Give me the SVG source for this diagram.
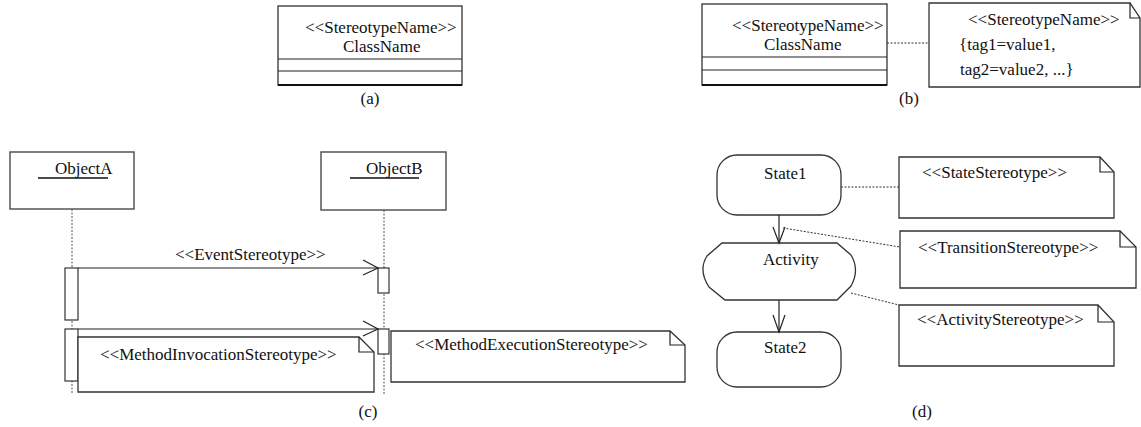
<svg xmlns="http://www.w3.org/2000/svg" width="1141" height="427" viewBox="0 0 1141 427" font-family="'Liberation Serif', 'DejaVu Serif', Tinos, serif">
<style>
text{font-family:'Liberation Serif','DejaVu Serif',Tinos,serif;font-size:17px;fill:#111}
.box{fill:#fff;stroke:#333;stroke-width:1.3}
.obj{fill:#fff;stroke:#555;stroke-width:1.5}
.ln{fill:none;stroke:#222;stroke-width:1.2}
.dot{fill:none;stroke:#333;stroke-width:1;stroke-dasharray:2 1.5}
.life{fill:none;stroke:#555;stroke-width:1;stroke-dasharray:2 1.5}
.act{fill:#fff;stroke:#333;stroke-width:1.2}
</style>
<rect width="1141" height="427" fill="#fff"/>

<!-- (a) -->
<g id="classA">
<rect class="box" x="278" y="6" width="184" height="79"/>
<line class="ln" x1="278" y1="59" x2="462" y2="59"/>
<line class="ln" x1="278" y1="71" x2="462" y2="71"/>
<line x1="278" y1="85" x2="462" y2="85" stroke="#111" stroke-width="2"/>
<text x="305" y="33">&lt;&lt;StereotypeName&gt;&gt;</text>
<text x="343" y="52">ClassName</text>
</g>
<text x="370" y="104" text-anchor="middle">(a)</text>

<!-- (b) -->
<g id="classB">
<rect class="box" x="702" y="4" width="185" height="81"/>
<line class="ln" x1="702" y1="57" x2="887" y2="57"/>
<line class="ln" x1="702" y1="70" x2="887" y2="70"/>
<line x1="702" y1="85" x2="887" y2="85" stroke="#111" stroke-width="2"/>
<text x="732" y="31">&lt;&lt;StereotypeName&gt;&gt;</text>
<text x="764" y="50">ClassName</text>
</g>
<g id="noteB">
<path class="box" d="M929,3 H1130 L1140,18 V87 H929 Z"/>
<path class="ln" d="M1130,3 V18 H1140"/>
<text x="968" y="25">&lt;&lt;StereotypeName&gt;&gt;</text>
<text x="959" y="50">{tag1=value1,</text>
<text x="960" y="75">tag2=value2, ...}</text>
</g>
<text x="909" y="104" text-anchor="middle">(b)</text>

<!-- (c) -->
<g id="objectA">
<rect class="obj" x="10" y="152" width="124" height="57"/>
<text x="55" y="174">ObjectA</text>
<line x1="38" y1="178" x2="108" y2="178" stroke="#111" stroke-width="1.3"/>
</g>
<g id="objectB">
<rect class="obj" x="321" y="152" width="125" height="58"/>
<text x="366" y="174">ObjectB</text>
<line x1="350" y1="178" x2="419" y2="178" stroke="#111" stroke-width="1.3"/>
</g>
<g id="lifelines">
<line class="life" x1="72" y1="209" x2="72" y2="394"/>
<line class="life" x1="384" y1="210" x2="384" y2="394"/>
</g>
<g id="activations">
<rect class="act" x="65" y="268" width="13" height="52"/>
<rect class="act" x="65" y="329" width="13" height="52"/>
<rect class="act" x="378" y="268" width="11" height="25"/>
<rect class="act" x="378" y="329" width="11" height="25"/>
</g>
<g id="messages">
<line class="ln" x1="78" y1="268" x2="378" y2="268"/>
<path class="ln" d="M363,260 L378,268 L363,275"/>
<text x="175" y="260">&lt;&lt;EventStereotype&gt;&gt;</text>
<line class="ln" x1="78" y1="329" x2="378" y2="329"/>
<path class="ln" d="M363,321 L378,329 L363,336"/>
</g>
<g id="noteInvocation">
<path class="box" d="M78,337 H359 L374,352 V392 H78 Z"/>
<path class="ln" d="M359,337 V352 H374"/>
<text x="100" y="360">&lt;&lt;MethodInvocationStereotype&gt;&gt;</text>
</g>
<g id="noteExecution">
<path class="box" d="M391,331 H670 L685,345 V382 H391 Z"/>
<path class="ln" d="M670,331 V345 H685"/>
<text x="415" y="350">&lt;&lt;MethodExecutionStereotype&gt;&gt;</text>
</g>
<text x="368" y="417" text-anchor="middle">(c)</text>

<!-- (d) -->
<g id="state1">
<rect class="box" x="717" y="155" width="124" height="60" rx="20" ry="20"/>
<text x="764" y="179">State1</text>
</g>
<g id="activity">
<path class="box" d="M722,243 H837 L851,255 Q860,270 851,286 L837,300 H725 L709,287 Q698,270 707,256 Z"/>
<text x="763" y="265">Activity</text>
</g>
<g id="state2">
<rect class="box" x="717" y="332" width="124" height="55" rx="20" ry="20"/>
<text x="764" y="353">State2</text>
</g>
<g id="noteState">
<path class="box" d="M899,157 H1100 L1114,172 V218 H899 Z"/>
<path class="ln" d="M1100,157 V172 H1114"/>
<text x="922" y="178">&lt;&lt;StateStereotype&gt;&gt;</text>
</g>
<g id="noteTransition">
<path class="box" d="M900,231 H1120 L1136,247 V288 H900 Z"/>
<path class="ln" d="M1120,231 V247 H1136"/>
<text x="918" y="253">&lt;&lt;TransitionStereotype&gt;&gt;</text>
</g>
<g id="noteActivity">
<path class="box" d="M899,305 H1098 L1114,322 V366 H899 Z"/>
<path class="ln" d="M1098,305 V322 H1114"/>
<text x="917" y="325">&lt;&lt;ActivityStereotype&gt;&gt;</text>
</g>
<g id="connectors">
<line class="dot" x1="887" y1="43" x2="929" y2="43"/>
<line class="ln" x1="779" y1="215" x2="779" y2="243"/>
<path class="ln" d="M773,227 L779,243 L785,227"/>
<line class="ln" x1="779" y1="300" x2="779" y2="332"/>
<path class="ln" d="M773,315 L779,332 L785,315"/>
<line class="dot" x1="841" y1="187" x2="899" y2="187"/>
<line class="dot" x1="783" y1="228" x2="900" y2="247"/>
<line class="dot" x1="851" y1="293" x2="899" y2="305"/>
</g>
<text x="922" y="417" text-anchor="middle">(d)</text>
</svg>
